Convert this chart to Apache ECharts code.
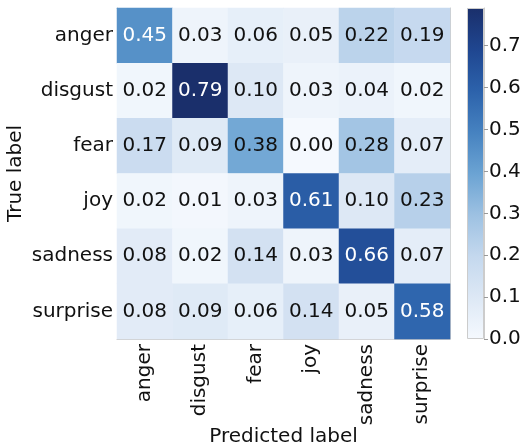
<!DOCTYPE html>
<html>
<head>
<meta charset="utf-8">
<script src="https://cdn.jsdelivr.net/npm/echarts@6/dist/echarts.min.js"></script>
<style>html,body{margin:0;padding:0;background:#fff;}#c{width:521px;height:447px;}</style>
</head>
<body>
<div id="c"></div>
<script>
const predictedLabels = ['anger', 'disgust', 'fear', 'joy', 'sadness', 'surprise'];
const trueLabels = ['anger', 'disgust', 'fear', 'joy', 'sadness', 'surprise'];
const rowAnger    = [0.45, 0.03, 0.06, 0.05, 0.22, 0.19];
const rowDisgust  = [0.02, 0.79, 0.10, 0.03, 0.04, 0.02];
const rowFear     = [0.17, 0.09, 0.38, 0.00, 0.28, 0.07];
const rowJoy      = [0.02, 0.01, 0.03, 0.61, 0.10, 0.23];
const rowSadness  = [0.08, 0.02, 0.14, 0.03, 0.66, 0.07];
const rowSurprise = [0.08, 0.09, 0.06, 0.14, 0.05, 0.58];
const colorbarTicks = [0.0, 0.1, 0.2, 0.3, 0.4, 0.5, 0.6, 0.7];

const rows = [rowAnger, rowDisgust, rowFear, rowJoy, rowSadness, rowSurprise];
const blues = ['#f5f9fe','#dde8f5','#c4d8ee','#9dc1e2','#6ba3d3','#4682c0','#2c62ab','#1f4690','#1a2f6b'];
let vmax = 0;
rows.forEach(r => r.forEach(v => { if (v > vmax) vmax = v; }));
const thresh = vmax / 2;
const data = [];
rows.forEach((r, i) => r.forEach((v, j) => {
  data.push({ value: [j, i, v], label: { color: v > thresh ? '#ffffff' : '#111111' } });
}));

const FONT = "'DejaVu Sans', sans-serif";
const FS = 20;
const lineCol = '#cccccc';

const chart = echarts.init(document.getElementById('c'), null, { renderer: 'canvas' });
chart.setOption({
  animation: false,
  backgroundColor: '#ffffff',
  textStyle: { fontFamily: FONT },
  grid: [
    { left: 117, right: 71, top: 8, bottom: 108, outerBoundsMode: 'none', containLabel: false },
    { left: 467, width: 17, top: 8, bottom: 108, outerBoundsMode: 'none', containLabel: false }
  ],
  xAxis: [
    {
      type: 'category', data: predictedLabels, gridIndex: 0, position: 'bottom',
      axisLine: { show: true, lineStyle: { color: lineCol, width: 1 } },
      axisTick: { show: false }, splitLine: { show: false },
      axisLabel: { rotate: 90, margin: 5, fontSize: FS, fontFamily: FONT, color: '#111' },
      name: 'Predicted label', nameLocation: 'middle', nameGap: 88, nameMoveOverlap: false,
      nameTextStyle: { fontSize: FS, fontFamily: FONT, color: '#111' }
    },
    {
      type: 'category', data: predictedLabels, gridIndex: 0, position: 'top',
      axisLine: { show: true, lineStyle: { color: lineCol, width: 1 } },
      axisTick: { show: false }, axisLabel: { show: false }, splitLine: { show: false }
    },
    {
      type: 'category', data: ['cb'], gridIndex: 1, show: false
    }
  ],
  yAxis: [
    {
      type: 'category', data: trueLabels, gridIndex: 0, inverse: true, position: 'left',
      axisLine: { show: true, lineStyle: { color: lineCol, width: 1 } },
      axisTick: { show: false }, splitLine: { show: false },
      axisLabel: { margin: 4, fontSize: FS, fontFamily: FONT, color: '#111' },
      name: 'True label', nameLocation: 'middle', nameGap: 91, nameMoveOverlap: false,
      nameTextStyle: { fontSize: FS, fontFamily: FONT, color: '#111' }
    },
    {
      type: 'category', data: trueLabels, gridIndex: 0, inverse: true, position: 'right',
      axisLine: { show: true, lineStyle: { color: lineCol, width: 1 } },
      axisTick: { show: false }, axisLabel: { show: false }, splitLine: { show: false }
    },
    {
      type: 'value', gridIndex: 1, position: 'right', min: 0, max: vmax, interval: 0.1,
      axisLine: { show: true, lineStyle: { color: lineCol, width: 1 } },
      axisTick: { show: true, inside: false, length: 4, lineStyle: { color: '#999' },
        customValues: colorbarTicks },
      splitLine: { show: false },
      axisLabel: { margin: 5, fontSize: FS, fontFamily: FONT, color: '#111',
        customValues: colorbarTicks,
        formatter: v => Number(v).toFixed(1) }
    }
  ],
  visualMap: {
    show: false, type: 'continuous', min: 0, max: vmax, seriesIndex: 0,
    inRange: { color: blues }
  },
  series: [
    {
      type: 'heatmap', xAxisIndex: 0, yAxisIndex: 0, data: data,
      label: { show: true, fontSize: FS, fontFamily: FONT, formatter: p => p.value[2].toFixed(2) },
      itemStyle: { borderWidth: 0 },
      emphasis: { disabled: true }
    },
    {
      type: 'bar', xAxisIndex: 2, yAxisIndex: 2, data: [vmax], barWidth: '100%',
      silent: true,
      itemStyle: {
        color: new echarts.graphic.LinearGradient(0, 1, 0, 0,
          blues.map((c, i) => ({ offset: i / (blues.length - 1), color: c }))),
        borderColor: lineCol, borderWidth: 1
      }
    }
  ]
});
</script>
</body>
</html>
